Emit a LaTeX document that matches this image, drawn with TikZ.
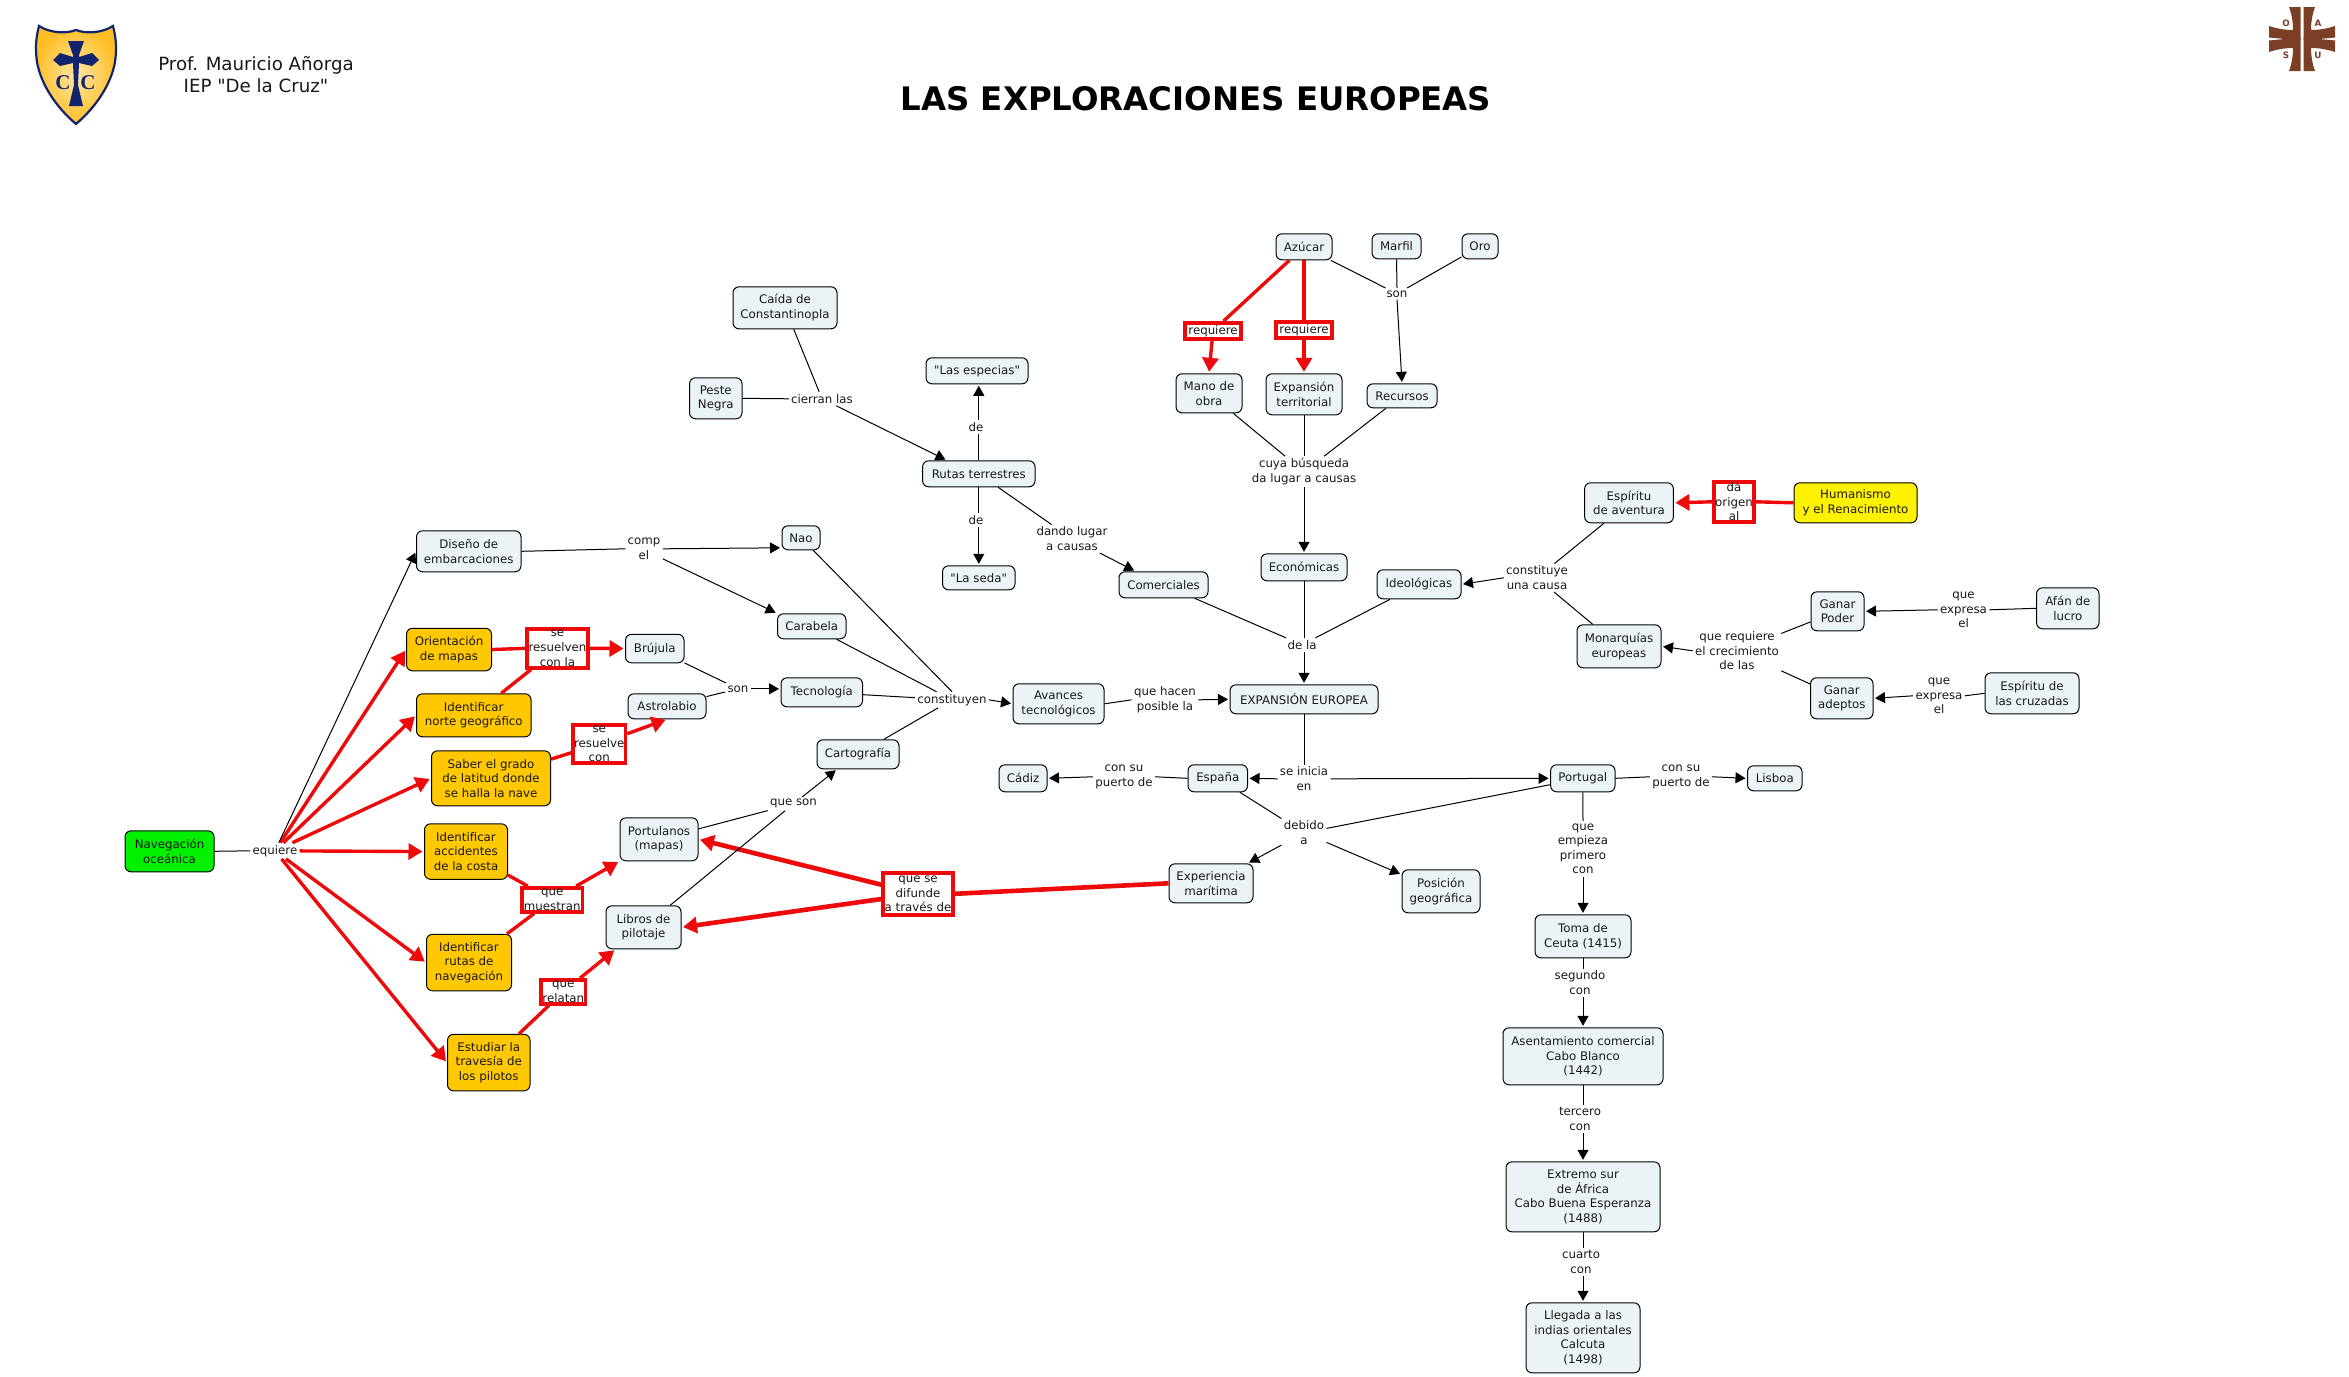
\documentclass[tikz,border=0pt]{standalone}
\usepackage{fontspec}
\setmainfont{DejaVu Sans}
\newfontfamily\mainf{DejaVu Sans}
\newfontfamily\crestfont{Liberation Serif}
\usetikzlibrary{arrows.meta,calc}
\definecolor{boxfill}{HTML}{ECF3F6}
\definecolor{amber}{HTML}{FFC800}
\definecolor{vivid}{HTML}{00F000}
\definecolor{linkred}{HTML}{EE0A0A}
\definecolor{navy}{HTML}{12246E}
\definecolor{umber}{HTML}{7B3F26}
\tikzset{
  base/.style={align=center,inner sep=0pt,font=\mainf\fontsize{5.9}{7.3}\selectfont,text=black!90},
  box/.style={base,draw=black,line width=0.5pt,rounded corners=3pt,fill=boxfill},
  amberbox/.style={box,fill=amber},
  greenbox/.style={box,fill=vivid},
  yellowbox/.style={box,fill=yellow},
  redbox/.style={base,draw=linkred,line width=1.7pt,fill=white},
  lbl/.style={base,inner xsep=1pt,inner ysep=1pt},
  lnk/.style={draw=black,line width=0.5pt},
  arr/.style={lnk,-{Triangle[length=5pt,width=5.5pt]},shorten >=0.75pt},
  rlnk/.style={draw=linkred,line width=1.7pt},
  rarr/.style={rlnk,-{Triangle[length=7pt,width=8pt]},shorten >=0.75pt},
  rthick/.style={line width=2.3pt},
  crestletter/.style={font=\mainf\bfseries\fontsize{4.4}{4.4}\selectfont,text=umber,inner sep=0pt},
  shieldletter/.style={font=\crestfont\fontsize{10.5}{12}\selectfont\bfseries,text=navy,inner sep=0pt},
}
% style, name, x1, y1, x2, y2, text
\newcommand{\rbox}[7]{\node[#1,minimum width={(#5-#3)*0.5pt},minimum height={(#6-#4)*0.5pt}] (#2) at ({(#3+#5)/2},{(#4+#6)/2}) {#7};}
\begin{document}
\begin{tikzpicture}[x=0.5pt,y=-0.5pt]
\useasboundingbox (0,0) rectangle (2349,1376);
\fill[white] (0,0) rectangle (2349,1376);

% crest left
\shade[inner color=yellow!45!orange!35!white,outer color=orange!60!yellow!85!white,draw=navy,line width=1.1pt]
 (39,26) .. controls (50,33) and (66,34) .. (76,30) .. controls (86,34) and (102,33) .. (113,26)
 .. controls (116,38) and (117,48) .. (115,62) .. controls (111,85) and (95,108) .. (76,124)
 .. controls (57,108) and (41,85) .. (37,62) .. controls (35,48) and (36,38) .. (39,26) -- cycle;
\fill[navy] (68,41) -- (84,41) -- (79,55) -- (79,57) -- (92,53) -- (99,60) -- (92,66) -- (79,63)
 -- (78,85) -- (83,106) -- (69,106) -- (74,85) -- (73,63) -- (60,66) -- (53,60) -- (60,53) -- (73,57) -- (73,55) -- cycle;
\node[shieldletter] (cleft) at (63,83) {C};
\node[shieldletter] (cright) at (88,83) {C};

% crest right
\begin{scope}[shift={(2302,39)}]
 \foreach \sx/\sy in {1/1,-1/1,1/-1,-1/-1}{
  \fill[umber,xscale=\sx,yscale=\sy] (1.5,1.5) -- (1.5,-32) -- (13,-32) .. controls (10,-24) and (9,-16) .. (9,-9) .. controls (16,-9) and (24,-10) .. (33,-13) -- (33,-1.5) -- cycle;
 }
 \node[crestletter] (co) at (-16,-16) {O};
 \node[crestletter] (ca) at (16,-16) {A};
 \node[crestletter] (cs) at (-16,16) {S};
 \node[crestletter] (cu) at (16,16) {U};
\end{scope}

% header
\node[align=center,inner sep=0pt,font=\mainf\fontsize{9.1}{11}\selectfont,text=black!90] (prof) at (256,75) {Prof. Mauricio Añorga\\IEP "De la Cruz"};
\node[inner sep=0pt,font=\mainf\fontsize{16.2}{20}\selectfont\bfseries] (title) at (1196,99) {LAS EXPLORACIONES EUROPEAS};

\begin{scope}[yshift=-0.4pt]
% concept nodes
\rbox{greenbox}{nav}{125}{830}{214}{871}{Navegación\\oceánica}
\rbox{box}{dis}{416.5}{530}{521}{571}{Diseño de\\embarcaciones}
\rbox{amberbox}{ori}{406.5}{627.5}{491.5}{670}{Orientación\\de mapas}
\rbox{amberbox}{nor}{416.5}{693}{531}{736}{Identificar\\norte geográfico}
\rbox{amberbox}{sab}{431.5}{750}{550.5}{805}{Saber el grado\\de latitud donde\\se halla la nave}
\rbox{amberbox}{acc}{424.5}{823}{507.5}{878.5}{Identificar\\accidentes\\de la costa}
\rbox{amberbox}{rut}{426.5}{933.5}{511.5}{990}{Identificar\\rutas de\\navegación}
\rbox{amberbox}{est}{447.5}{1033.5}{530}{1090}{Estudiar la\\travesía de\\los pilotos}
\rbox{box}{bru}{625.5}{633.5}{684}{662}{Brújula}
\rbox{box}{ast}{628}{693}{706}{718}{Astrolabio}
\rbox{box}{por}{620}{817}{698}{860}{Portulanos\\(mapas)}
\rbox{box}{lib}{606}{905}{681}{948}{Libros de\\pilotaje}
\rbox{box}{cai}{733}{286}{837}{328}{Caída de\\Constantinopla}
\rbox{box}{pes}{689.5}{377}{742}{418}{Peste\\Negra}
\rbox{box}{esc}{926}{357}{1028}{383}{"Las especias"}
\rbox{box}{rtt}{922.6}{460}{1035}{486}{Rutas terrestres}
\rbox{box}{sed}{942.5}{565}{1015}{589}{"La seda"}
\rbox{box}{nao}{782}{525}{820}{549}{Nao}
\rbox{box}{car}{777.5}{613}{846}{638}{Carabela}
\rbox{box}{tec}{781}{677}{862.5}{706}{Tecnología}
\rbox{box}{crt}{817}{739}{899}{768}{Cartografía}
\rbox{box}{ava}{1013}{683}{1104}{723}{Avances\\tecnológicos}
\rbox{box}{com}{1119}{571}{1208}{597}{Comerciales}
\rbox{box}{azu}{1276}{233}{1332}{259}{Azúcar}
\rbox{box}{mar}{1372}{233}{1421}{258}{Marfil}
\rbox{box}{oro}{1462}{233}{1498}{258}{Oro}
\rbox{box}{man}{1176}{373}{1242}{412}{Mano de\\obra}
\rbox{box}{ext}{1266}{373}{1342}{414}{Expansión\\territorial}
\rbox{box}{rec}{1367}{383}{1437}{407}{Recursos}
\rbox{box}{eco}{1261}{553}{1347}{580}{Económicas}
\rbox{box}{ide}{1377}{569}{1461}{598}{Ideológicas}
\rbox{box}{eur}{1230}{684}{1378}{713}{EXPANSIÓN EUROPEA}
\rbox{box}{esa}{1584.6}{482}{1673.4}{522}{Espíritu\\de aventura}
\rbox{box}{mon}{1577}{624}{1661}{667}{Monarquías\\europeas}
\rbox{yellowbox}{hum}{1794}{482}{1917}{522}{Humanismo\\y el Renacimiento}
\rbox{box}{gpo}{1811}{591}{1864}{630}{Ganar\\Poder}
\rbox{box}{afa}{2036.5}{587}{2099}{628}{Afán de\\lucro}
\rbox{box}{gad}{1810.5}{677}{1873}{718}{Ganar\\adeptos}
\rbox{box}{cru}{1985}{672}{2079}{713}{Espíritu de\\las cruzadas}
\rbox{box}{ptg}{1550.6}{764}{1615}{791}{Portugal}
\rbox{box}{lis}{1747.5}{765}{1802}{790}{Lisboa}
\rbox{box}{cad}{999}{764}{1047}{791}{Cádiz}
\rbox{box}{esn}{1188}{764}{1247.5}{791}{España}
\rbox{box}{exm}{1169}{863}{1253}{902}{Experiencia\\marítima}
\rbox{box}{pos}{1402}{869}{1480}{912}{Posición\\geográfica}
\rbox{box}{tom}{1535}{914}{1631}{957}{Toma de\\Ceuta (1415)}
\rbox{box}{ase}{1503}{1027}{1663}{1084}{Asentamiento comercial\\Cabo Blanco\\(1442)}
\rbox{box}{xsu}{1506}{1161}{1660}{1231}{Extremo sur\\de África\\Cabo Buena Esperanza\\(1488)}
\rbox{box}{lle}{1526}{1302}{1640}{1372}{Llegada a las\\indias orientales\\Calcuta\\(1498)}

% red linking phrases
\rbox{redbox}{sr1}{527}{628}{588}{667}{se\\resuelven\\con la}
\rbox{redbox}{sr2}{573}{724}{625.5}{762}{se\\resuelve\\con}
\rbox{redbox}{mue}{522}{887}{582.5}{911}{que\\muestran}
\rbox{redbox}{rel}{541}{979}{585.5}{1003}{que\\relatan}
\rbox{redbox}{dif}{883}{872}{953}{914}{que se\\difunde\\a través de}
\rbox{redbox}{rq1}{1185}{322}{1241}{338}{requiere}
\rbox{redbox}{rq2}{1276}{321}{1332}{337}{requiere}
\rbox{redbox}{dao}{1714}{481}{1754}{521}{da\\origen\\al}

% plain linking phrases
\node[lbl] (leq) at (275,850) {equiere};
\node[lbl] (lcm) at (644,548) {comp\\el};
\node[lbl] (lci) at (822,398) {cierran las};
\node[lbl] (lde) at (976,426) {de};
\node[lbl] (ldf) at (976,519) {de};
\node[lbl] (ldn) at (1072,538) {dando lugar\\a causas};
\node[lbl] (lsn) at (738,688) {son};
\node[lbl] (lcn) at (952,699) {constituyen};
\node[lbl] (lhc) at (1165,699) {que hacen\\posible la};
\node[lbl] (lso) at (1397,293) {son};
\node[lbl] (lcu) at (1304,471) {cuya búsqueda\\da lugar a causas};
\node[lbl] (ldl) at (1302,644) {de la};
\node[lbl] (lct) at (1537,577) {constituye\\una causa};
\node[lbl] (lrq) at (1737,650) {que requiere\\el crecimiento\\de las};
\node[lbl] (lx1) at (1963.5,609) {que\\expresa\\el};
\node[lbl] (lx2) at (1939,695) {que\\expresa\\el};
\node[lbl] (lin) at (1304,778) {se inicia\\en};
\node[lbl] (lpa) at (1124,776) {con su\\puerto de};
\node[lbl] (lpb) at (1681,776) {con su\\puerto de};
\node[lbl] (ldb) at (1304,832) {debido\\a};
\node[lbl] (lqs) at (793.5,803) {que son};
\node[lbl] (lem) at (1583,848) {que\\empieza\\primero\\con};
\node[lbl] (lsg) at (1580,982) {segundo\\con};
\node[lbl] (lte) at (1580,1118) {tercero\\con};
\node[lbl] (lcr) at (1581,1261) {cuarto\\con};

% red connectors
\draw[rarr] (leq) -- (ori.west);
\draw[rarr] (leq) -- (nor.west);
\draw[rarr] (leq) -- (sab.west);
\draw[rarr] (leq) -- (acc.west);
\draw[rarr] (leq) -- (rut.west);
\draw[rarr] (leq) -- (est.west);
\draw[rlnk] (ori.east) -- (sr1.west);
\draw[rlnk] (nor) -- (sr1);
\draw[rarr] (sr1.east) -- (bru.west);
\draw[rlnk] (sab) -- (sr2);
\draw[rarr] (sr2) -- (ast.south);
\draw[rlnk] (acc) -- (mue);
\draw[rlnk] (rut) -- (mue);
\draw[rarr] (mue) -- (por.south west);
\draw[rlnk] (est) -- (rel);
\draw[rarr] (rel) -- ([xshift=5pt]lib.south west);
\draw[rlnk,rthick] (exm.west) -- (dif.east);
\draw[rarr,rthick] (dif) -- (por.east);
\draw[rarr,rthick] (dif) -- (lib.east);
\draw[rlnk] (azu) -- (rq1);
\draw[rarr] (rq1) -- (man.north);
\draw[rlnk] (azu.south) -- (rq2.north);
\draw[rarr] (rq2.south) -- (ext.north);
\draw[rlnk] (hum.west) -- (dao.east);
\draw[rarr] (dao.west) -- (esa.east);

% black connectors
\draw[lnk] (nav.east) -- (leq.west);
\draw[arr] (leq) -- (dis.west);
\draw[lnk] (dis.east) -- (lcm.west);
\draw[arr] (lcm.east) -- ([yshift=-5pt]nao.west);
\draw[arr] ([yshift=-5pt]lcm.east) -- (car.north west);
\draw[lnk] (cai) -- (lci);
\draw[lnk] (pes.east) -- (lci.west);
\draw[arr] (lci) -- ([xshift=-16pt]rtt.north);
\draw[lnk] (rtt.north) -- (rtt.north |- lde.south);
\draw[arr] (rtt.north |- lde.north) -- (rtt.north |- esc.south);
\draw[lnk] (rtt.south) -- (rtt.south |- ldf.north);
\draw[arr] (rtt.south |- ldf.south) -- (rtt.south |- sed.north);
\draw[lnk] (rtt) -- (ldn);
\draw[arr] (ldn) -- ([xshift=-14pt]com.north);
\draw[lnk] (nao) -- (lcn.north);
\draw[lnk] (car) -- (lcn);
\draw[lnk] (tec) -- (lcn);
\draw[lnk] (crt) -- (lcn);
\draw[lnk] (bru) -- (lsn);
\draw[lnk] (ast) -- (lsn);
\draw[arr] (lsn.east) -- (lsn.east -| tec.west);
\draw[arr] (lcn.east) -- (ava.west);
\draw[lnk] (ava.east) -- (lhc.west);
\draw[arr] (lhc.east) -- (eur.west);
\draw[lnk] (azu) -- (lso);
\draw[lnk] (mar.south) -- (lso.north);
\draw[lnk] (oro) -- (lso);
\draw[arr] (lso.south) -- (rec.north);
\draw[lnk] (man) -- (lcu);
\draw[lnk] (ext.south) -- (lcu.north);
\draw[lnk] (rec) -- (lcu);
\draw[arr] (lcu.south) -- (eco.north);
\draw[lnk] (eco.south) -- (eco.south |- ldl.north);
\draw[arr] (eco.south |- ldl.south) -- (eur.north);
\draw[lnk] (com) -- (ldl);
\draw[lnk] (ide) -- (ldl);
\draw[arr] (lct.west) -- (ide.east);
\draw[lnk] (esa) -- (lct);
\draw[lnk] (mon) -- (lct);
\draw[lnk] (afa.west) -- (lx1.east);
\draw[arr] (lx1.west) -- (gpo.east);
\draw[lnk] (cru.west) -- (lx2.east);
\draw[arr] (lx2.west) -- (gad.east);
\draw[lnk] (gpo) -- (lrq);
\draw[lnk] (gad) -- (lrq);
\draw[arr] (lrq.west) -- (mon.east);
\draw[lnk] (eur.south) -- (lin.north);
\draw[arr] (lin.west) -- (esn.east);
\draw[arr] (lin.east) -- (ptg.west);
\draw[lnk] (esn.west) -- (lpa.east);
\draw[arr] (lpa.west) -- (cad.east);
\draw[lnk] (ptg.east) -- (lpb.west);
\draw[arr] (lpb.east) -- (lis.west);
\draw[lnk] (esn) -- (ldb);
\draw[lnk] (ptg) -- (ldb);
\draw[arr] (ldb) -- (exm);
\draw[arr] (ldb) -- (pos);
\draw[lnk] (por) -- (lqs);
\draw[lnk] (lib) -- (lqs);
\draw[arr] (lqs) -- ([xshift=-10.5pt]crt.south);
\draw[lnk] (ptg.south) -- (lem.north);
\draw[arr] (lem.south) -- (tom.north);
\draw[lnk] (tom.south) -- (tom.south |- lsg.north);
\draw[arr] (tom.south |- lsg.south) -- (ase.north);
\draw[lnk] (ase.south) -- (ase.south |- lte.north);
\draw[arr] (ase.south |- lte.south) -- (xsu.north);
\draw[lnk] (xsu.south) -- (xsu.south |- lcr.north);
\draw[arr] (xsu.south |- lcr.south) -- (lle.north);
\end{scope}
\end{tikzpicture}
\end{document}
